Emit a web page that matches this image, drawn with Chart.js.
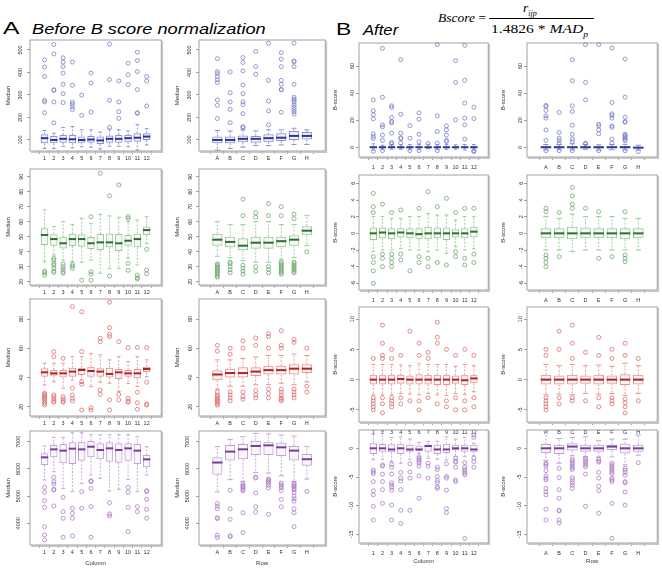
<!DOCTYPE html>
<html><head><meta charset="utf-8">
<script src="https://cdn.jsdelivr.net/npm/chart.js@4"></script>
<style>
body{margin:0;background:#fff;width:662px;height:570px;position:relative;overflow:hidden;font-family:"Liberation Sans",Arial,sans-serif}
.pn{position:absolute}
.t{position:absolute;line-height:1;white-space:nowrap;color:#000;transform-origin:0 0}
.f{position:absolute;line-height:1;white-space:nowrap;font-family:"Liberation Serif","Times New Roman",serif;font-size:13.5px;color:#000;transform-origin:0 0}
</style></head><body>
<div class="t" style="left:3px;top:20px;font-size:17px;transform:scaleX(1.45)">A</div>
<div class="t" style="left:32px;top:22px;font-size:14px;font-style:italic;transform:scaleX(1.30)">Before B score normalization</div>
<div class="t" style="left:336px;top:21px;font-size:17px;transform:scaleX(1.35)">B</div>
<div class="t" style="left:363px;top:23px;font-size:14px;font-style:italic;transform:scaleX(1.19)">After</div>
<div class="f" style="left:438px;top:11px"><i>Bscore</i> =</div>
<div class="f" style="left:523px;top:1px"><i>r</i><sub style="font-size:8px;font-style:italic;color:#000">ijp</sub></div>
<div style="position:absolute;left:489px;top:18px;width:105px;height:1px;background:#000"></div>
<div class="f" style="left:491px;top:22px;font-size:13px;transform:scaleX(1.2)">1.4826 * <i>MAD</i><sub style="font-size:8px;font-style:italic;color:#000">p</sub></div>
<script>
// ---------- category / tick labels ----------
const colLabels = ['1','2','3','4','5','6','7','8','9','10','11','12'];
const rowLabels = ['A','B','C','D','E','F','G','H'];
const ticksR1A = [100,200,300,400,500];
const ticksR1B = [0,20,40,60];
const ticksR2A = [20,30,40,50,60,70,80,90];
const ticksR2B = [-6,-4,-2,0,2,4,6];
const ticksR3A = [20,40,60,80];
const ticksR3B = [-5,0,5,10];
const ticksR4A = [4000,5000,6000,7000];
const ticksR4B = [-15,-10,-5,0];

// ---------- box statistics: [lower whisker, Q1, median, Q3, upper whisker] ----------
// Row 1 (before) by column
const r1c1Box = [[62,85,108,125,142],[62,85,100,118,130],[72,88,105,122,155],[65,85,103,122,160],[70,88,100,115,145],[68,88,102,118,145],[60,82,98,115,135],[72,88,105,120,148],[72,88,105,122,145],[70,90,108,122,140],[55,92,110,130,168],[78,100,115,130,150]];
const r1c1Out = [[456,424,382,276,269,221],[524,482,323,320,269,176],[465,446,426,397,347,306,266],[446,343,268,259,247,235],[299,209],[397,353,224],[],[526,368,276,156],[362,269,226,196],[441,390,346],[490,453,404,324,221,218],[382,362,251]];
// Row 1 (before) by row
const r1c2Box = [[55,85,100,115,142],[62,85,100,115,140],[68,90,105,120,145],[75,88,105,118,140],[75,90,108,125,145],[78,95,110,130,145],[80,100,118,140,152],[80,102,118,135,145]];
const r1c2Out = [[461,404,395,381,367,355,278,254,195],[402,310,269,236,177],[466,444,407,344,306,269,257,217,159,155],[493,426,392],[530,365,273,229,167],[488,459,426,365,347,325,322,223],[530,451,447,426,347,290,282,275,268,255,245,235,225,215],[]];
// Row 1 (after) by column
const r1c3Box = [[-2,-0.6,0,0.6,2.5],[-1.8,-0.5,0,0.5,1.5],[-1.5,-0.5,0,0.6,2],[-1.5,-0.6,0,0.5,2],[-2,-0.5,0,0.5,2],[-1.8,-0.6,0,0.6,2],[-1,-0.4,0,0.6,2.2],[-1.8,-0.6,0,0.6,2],[-1.5,-0.5,0,0.5,2],[-1.5,-0.5,0,0.5,1.8],[-2,-0.6,0,0.6,2],[-2,-0.6,0,0.5,2]];
const r1c3Out = [[35,27,24,21,10,8,6.4,-3],[73,37,16.5,15,9,5,-2.5],[30.6,29.4,22,19,18,10.4,3.5,2.5],[64.7,24.4,10.4,7,6.4,3],[16,6.7,-2.5],[25.4,20.7,9.6,4,-2.5],[2.8],[75.8,23.2,11.6,3,-2.5],[15.8,12.8,9,5,4.2],[64,47.9,20.2],[75.3,49.4,32.6,21.5,16.5,6],[29.6,21.2,-2.5,-3.2]];
// Row 1 (after) by row
const r1c4Box = [[-2,-0.6,0,0.6,2],[-1.8,-0.5,0,0.5,2],[-2,-0.6,0,0.6,2.5],[-1.5,-0.5,0,0.5,2],[-2,-0.6,0,0.5,1.8],[-1.8,-0.6,0,0.6,2],[-2,-0.6,0,0.7,2.2],[-2,-0.6,-0.3,0.2,1.5]];
const r1c4Out = [[30.9,30.1,27.2,23.2,21.5,12.8,5,-2.5],[25.7,10.9,6.7,5,3,-2.5],[64.7,49.1,30.6,26.4,16.3,9.6,6,4.2,-2.5],[75.8,47.9,35,3,2.5],[75.8,17,15.8,12.8,10,-2.5],[73.3,33,24.7,23.5,21.5,15.8,14.8,6,3],[65.2,37,22.2,19,18.5,9.6,8.9,7.9,6.9,5.9,4.9,-2.5],[-3.2]];

// Row 2 (before) by column
const r2c1Box = [[33.3,44.4,51.1,55.6,67.8],[37.8,44,48.4,51.6,56.7],[34.4,42.2,45.6,50,60],[33.3,43.8,48.4,52,58.2],[32.9,43.3,48.4,51.6,62.2],[34.4,41.8,45.6,49.8,58.9],[25.6,41.1,46.2,51.8,64.9],[28.9,42.9,46.2,52.2,63.8],[28.9,40.4,45.6,51.8,62.9],[35.6,44,47.3,51.1,60],[31.1,42.9,48.4,52,61.1],[45.6,51.1,54.4,56.7,63.3]];
const r2c1Out = [[27,26,24.4],[35.6,34.4,32.2,31.1,28.9,27.1,26.2],[31.8,30,28.4,26.7,25.6],[31.6,30.4,28.9],[21],[63.3,26.7,25.1,21],[92.2],[77.3,23.8],[84.4],[63.3,62.2,32.2,27.6],[24.4,22.7,21.8],[41.6,27.8,25.3]];
// Row 2 (before) by row
const r2c2Box = [[37,44,48,52,60],[36,43,46.5,50,58],[34,41,44,49,58],[33,42,46,50,60],[33,42,46,50,60],[35,43,47,50,58],[36,44,48,51,58],[44,51,54,57,64]];
const r2c2Out = [[32,31,30,29,28,27,26,25,24,23],[33,32,30,28,26],[75,64,31,29,27,25],[66,63,30,27],[72,64,30,28,26],[70,64,33,32,31,30,29,28,27,26,25],[65,62,33,32,31,30,29,28,27,26],[40]];
// Row 2 (after) by column
const r2c3Box = [[-2.2,-0.8,0,0.7,2],[-2,-0.6,0.1,0.7,2],[-2,-0.7,0,0.6,1.8],[-1.8,-0.5,0.1,0.6,1.8],[-2,-0.6,0,0.6,2],[-2,-0.7,-0.1,0.6,2],[-2.2,-0.7,0,0.8,2.4],[-2,-0.6,0,0.7,2.2],[-2.4,-0.8,0,0.7,2.2],[-1.6,-0.5,0,0.5,1.6],[-2,-0.6,0,0.6,2],[-1.8,-0.5,0.2,0.8,2]];
const r2c3Out = [[4.8,3.2,2.5,-2.8,-3.5,-4.5,-6],[3.5,-2.5,-3,-4],[2.5,-2.5,-3,-3.5,-4],[2.8,-2.5,-3.2],[-4.5],[3,-2.8,-3.5],[5,-3,-4],[3.2,-3.5],[4.2,-3.8],[2.5,-2.2,-2.8],[3,-3,-3.8],[3,-2.5,-3.5]];
// Row 2 (after) by row
const r2c4Box = [[-2,-0.6,0,0.6,2],[-2,-0.6,0,0.6,1.8],[-2.2,-0.7,0,0.8,2.3],[-2,-0.6,0,0.7,2],[-2,-0.6,0,0.6,2],[-2,-0.6,0,0.6,2],[-2,-0.7,0,0.6,1.8],[-2,-0.6,0,0.6,1.8]];
const r2c4Out = [[3,2.6,-2.6,-3,-3.5,-4],[2.5,-2.8],[5.5,4.5,3.5,3],[3],[2.6,-3],[-2.8],[2.6,-2.6,-3,-3.4],[]];

// Row 3 (before) by column
const r3c1Box = [[34.8,40.5,43.5,46.3,49.7],[37.1,41.2,42.8,45.1,49.7],[32.6,39.9,42.8,45.1,49.7],[38.3,40.5,44,46.7,54.2],[36,41.7,45.1,46.7,54.2],[33.7,40.5,44.4,47.4,56.5],[36.7,40.5,44,46.3,55.4],[36,39.9,42.4,46.7,52],[30.3,38.9,43.5,45.8,54.2],[36,40.5,42.8,45.1,50.8],[33.7,39.4,42.8,45.8,54.2],[40.5,43.5,45.8,47.4,52]];
const r3c1Out = [[29.1,28.4,27.5,26.6,25.7,24.6,23.4,22.3,21.1],[57.7,54.2,28,26.8,25.3,23.9,23],[53.1,26.8,25.3,23.9,23],[88.5,32.6,28,25.7,23.9],[85,57.7,37.1,35.3,17.7],[19.3,17.7],[66.8,64.5,31.4,28.4],[91.5,74.1,69.5,67.9,24.6,17.7],[64.5,28.4,24.6],[60.4,25.7,23.9,23],[60.6,29.8,22.7,18.2],[60.4,36.7,21.8,21.1]];
// Row 3 (before) by row
const r3c2Box = [[32,38,42,45,52],[34,40,43,46,52],[34,40,43,47,53],[35,41,44,47,54],[35,42,45,48,55],[36,42,45,48,55],[35,42,46,49,56],[37,43,46,49,55]];
const r3c2Out = [[30,28,27,26,25,24,23,22,21,58,62],[30,28,26,24,56,60],[30,27,25,60,65],[31,28,26,62,67],[32,29,26,60,68,70],[32,30,28,26,25,24,60,62,72],[32,30,28,26,64,66],[34,30,60]];
// Row 3 (after) by column
const r3c3Box = [[-2.5,-0.8,0,0.8,2.5],[-2.5,-0.8,0,0.8,2.5],[-2.5,-0.8,0,0.8,2.5],[-2.3,-0.7,0.1,0.8,2.4],[-2.4,-0.8,0,0.7,2.3],[-2.5,-0.8,0,0.9,2.6],[-2.3,-0.8,0,0.8,2.5],[-2.5,-0.9,0,0.8,2.5],[-2.6,-0.9,0,0.8,2.5],[-2.3,-0.7,0,0.7,2.2],[-2.5,-0.9,-0.1,0.8,2.5],[-2,-0.6,0.2,0.8,2.3]];
const r3c3Out = [[3.5,-3,-3.5,-4,-4.5,-5],[9,6,4,3.5,-3,-4,-5.5],[5,3.5,-3,-3.5,-4,-4.5],[4,-3,-4],[8,-3.5],[6,4,-3.5,-5],[4.5,3.5,-3],[9.5,7,6,-4],[5,-3.5,-4.5],[4,-3,-5],[5,-3.5,-5],[4,-3,-4.5]];
// Row 3 (after) by row
const r3c4Box = [[-2.5,-0.8,0,0.8,2.5],[-2.4,-0.8,0,0.7,2.3],[-2.5,-0.8,0,0.8,2.5],[-2.3,-0.7,0,0.7,2.3],[-2.4,-0.8,0,0.8,2.4],[-2.3,-0.7,0,0.7,2.2],[-2.6,-0.9,0,0.9,2.7],[-2.3,-0.8,0,0.8,2.3]];
const r3c4Out = [[5,4,-3,-3.5,-4,-4.5,-5],[8,5,-3,-4],[9,6,3.5,-3,-3.5],[4.5,-3.5],[7,4,-3,-4.5],[5,3.5,-3,-3.5,-4],[6,4,-3.2,-3.8,-4.5,-5.5],[3.5,-3.5]];

// Row 4 (before) by column
const r4c1Box = [[5592,6143,6425,6572,6841],[5898,6425,6718,6878,7159],[5286,6204,6670,6914,7159],[5164,6180,6743,6976,7330],[5470,6302,6718,7000,7330],[5776,6425,6816,7024,7257],[5654,6351,6694,6939,7257],[5189,6266,6755,6976,7257],[5250,6229,6694,6939,7257],[5617,6302,6755,6939,7257],[5164,6180,6670,6914,7184],[5776,6057,6351,6510,6816]];
const r4c1Out = [[5323,5140,4833,4589,3879,3573,3389],[5690,5531,5446,5250,5225,4638],[4956,4430,4185,3487],[4552,4368,4185,3536],[5164,4552],[5568,5531,5286,4613,3487],[],[4760,4344,4270],[],[5323,5140,4589,3695],[4613,4430],[5200,5164,4883,4515,4185]];
// Row 4 (before) by row
const r4c2Box = [[5153,5785,6234,6429,6818],[5603,6307,6635,6878,7085],[5542,6356,6720,6915,7182],[5870,6514,6842,7036,7304],[5846,6514,6866,7000,7280],[5749,6477,6793,6964,7243],[5542,6307,6672,6842,7207],[5627,6113,6356,6550,6818]];
const r4c2Out = [[4728,4631,4533,4205,4169,3561,3476],[5214,4533,4145,3537,3513],[5457,5400,5350,5300,5240,5190,4388,3659],[5700,5663,5117,4606,4412],[5627,5590,5540,5480,5400,5300,4327],[5480,5420,5360,5300,5200,4874,4607],[5480,5430,5380,5330,5280,5230,5130,5000,4900,4810,4533,4388,3877],[5177]];
// Row 4 (after) by column
const r4c3Box = [[-2,-1,0,0.9,2.5],[-1.9,-0.6,0,0.75,2.9],[-2.3,-0.7,-0.2,0.7,1.9],[-2.6,-1,0,0.8,2],[-1.9,-0.6,-0.2,0.6,1.6],[-0.9,-0.5,-0.2,0.5,1],[-1.7,-0.6,0.4,0.6,1.2],[-1.9,-1,-0.2,0.6,1.2],[-2,-0.8,-0.2,0.8,2],[-1.4,-0.3,0,0.6,1.6],[-1.4,-0.6,0,0.6,1.9],[-1.3,-0.6,-0.2,0.6,0.9]];
const r4c3Out = [[-3.8,-4.1,-4.4,-5.8,-7.4,-8.1,-10.1,-12.5],[-2.9,-3.1,-4.5,-5.8,-7.2,-9.6],[-2.8,-3.3,-4.5,-6,-6.4,-6.8,-7.3,-9.9,-12.5],[-4.2,-5.2,-5.7,-7.2,-10.8,-13.1],[-2.7,-4.1,-5.2,-10.8],[-1.5,-1.7,-2,-2.3,-2.6,-3.1,-4.8,-8.7],[-2.6,-3.1,-5.2],[-3.3,-3.7,-4.9,-5.6,-6,-6.7,-7],[-2.7,-4.9,-5.2,-7.3,-10.5,-11.2],[-1.7,-2.2,-2.4,-3.3,-5.5,-5.8],[-2.5,-3.3,-3.7,-4,-4.3,-4.6,-15.7],[2.3,1.9,-1.7,-2.3,-3.3]];
// Row 4 (after) by row
const r4c4Box = [[-2.1,-0.8,0,0.75,2.9],[-2.6,-1,0,0.6,1.7],[-1.3,-0.4,0.3,0.9,1.9],[-1.5,-0.6,0,0.6,2],[-1.5,-0.6,0,0.6,1.3],[-1.5,-0.3,0.3,0.6,1.6],[-2.9,-0.9,0,0.8,1.6],[-1.2,-0.6,0,0.6,2.3]];
const r4c4Out = [[-2.6,-2.8,-3.1,-3.9,-4.8,-5.2,-5.5,-7,-7.6,-8.1,-10.6,-12.5],[-3.5,-5.1,-7.2,-8.7,-10.8,-10.9,-12.5,-13],[-1.9,-2.2,-2.5,-2.8,-3.1,-3.4,-3.7,-5.1,-5.5,-6,-6.4,-7],[-1.7,-2,-2.3,-2.6,-2.9,-3.2,-4.5,-10.1],[-1.9,-2.2,-2.4,-4.2,-5.2,-6.6,-7.4,-11.3],[-2.6,-2.9,-3.2,-3.5,-3.8,-4.1,-4.4,-5.2,-5.5,-5.8,-9.6,-15.7],[-3.5,-3.8,-4.2,-4.7,-5.8,-6,-7.6,-9.9],[-2.5]];

// ---------- styling (not data) ----------
const themes = [
  {line:'#8b91d2', fill:'rgba(139,145,210,0.10)', med:'#2e3592', pt:'#7a80c6'},
  {line:'#98c898', fill:'rgba(152,200,152,0.10)', med:'#2f6e2f', pt:'#6fa86f'},
  {line:'#e69393', fill:'rgba(230,147,147,0.10)', med:'#b22222', pt:'#dd6e6e'},
  {line:'#c2a2d6', fill:'rgba(194,162,214,0.10)', med:'#7a3d96', pt:'#ac7cc6'}
];
const FONT = '"Liberation Sans", Arial, sans-serif';

const panels = [
  {box:r1c1Box,out:r1c1Out,labels:colLabels,yt:ticksR1A,frame:[30,40,162,151],y:[51,544],th:0,ytitle:'Median',xtitle:'',b:false},
  {box:r1c2Box,out:r1c2Out,labels:rowLabels,yt:ticksR1A,frame:[199,40,326,151],y:[51,544],th:0,ytitle:'Median',xtitle:'',b:false},
  {box:r1c3Box,out:r1c3Out,labels:colLabels,yt:ticksR1B,frame:[359,43,489,157],y:[-7.2,77],th:0,ytitle:'B-score',xtitle:'',b:true},
  {box:r1c4Box,out:r1c4Out,labels:rowLabels,yt:ticksR1B,frame:[527,43,658,157],y:[-7.2,77],th:0,ytitle:'B-score',xtitle:'',b:true},
  {box:r2c1Box,out:r2c1Out,labels:colLabels,yt:ticksR2A,frame:[30,169,162,285],y:[17.8,95.1],th:1,ytitle:'Median',xtitle:'',b:false},
  {box:r2c2Box,out:r2c2Out,labels:rowLabels,yt:ticksR2A,frame:[199,169,326,285],y:[17.8,95.1],th:1,ytitle:'Median',xtitle:'',b:false},
  {box:r2c3Box,out:r2c3Out,labels:colLabels,yt:ticksR2B,frame:[359,175,489,290],y:[-6.8,7],th:1,ytitle:'B-score',xtitle:'',b:true},
  {box:r2c4Box,out:r2c4Out,labels:rowLabels,yt:ticksR2B,frame:[527,175,658,290],y:[-6.8,7],th:1,ytitle:'B-score',xtitle:'',b:true},
  {box:r3c1Box,out:r3c1Out,labels:colLabels,yt:ticksR3A,frame:[30,299,162,416],y:[13.6,93.7],th:2,ytitle:'Median',xtitle:'',b:false},
  {box:r3c2Box,out:r3c2Out,labels:rowLabels,yt:ticksR3A,frame:[199,299,326,416],y:[13.6,93.7],th:2,ytitle:'Median',xtitle:'',b:false},
  {box:r3c3Box,out:r3c3Out,labels:colLabels,yt:ticksR3B,frame:[359,307,489,422],y:[-7,12],th:2,ytitle:'B-score',xtitle:'',b:true},
  {box:r3c4Box,out:r3c4Out,labels:rowLabels,yt:ticksR3B,frame:[527,307,658,422],y:[-7,12],th:2,ytitle:'B-score',xtitle:'',b:true},
  {box:r4c1Box,out:r4c1Out,labels:colLabels,yt:ticksR4A,frame:[30,431,162,545],y:[3202,7393],th:3,ytitle:'Median',xtitle:'Column',b:false},
  {box:r4c2Box,out:r4c2Out,labels:rowLabels,yt:ticksR4A,frame:[199,431,326,545],y:[3202,7393],th:3,ytitle:'Median',xtitle:'Row',b:false},
  {box:r4c3Box,out:r4c3Out,labels:colLabels,yt:ticksR4B,frame:[359,430,489,543],y:[-16.5,3.19],th:3,ytitle:'B-score',xtitle:'Column',b:true},
  {box:r4c4Box,out:r4c4Out,labels:rowLabels,yt:ticksR4B,frame:[527,430,658,543],y:[-16.5,3.19],th:3,ytitle:'B-score',xtitle:'Row',b:true}
];

const framePlugin = {
  id:'frame',
  afterDraw(chart){
    const a = chart.chartArea, c = chart.ctx;
    c.save();
    c.strokeStyle = '#c8c8c8'; c.lineWidth = 1.5;
    c.beginPath(); c.moveTo(a.right+1.2,a.top+1); c.lineTo(a.right+1.2,a.bottom+1.2); c.lineTo(a.left+1,a.bottom+1.2); c.stroke();
    c.strokeStyle = '#8a8a8a'; c.lineWidth = 0.8;
    c.strokeRect(a.left, a.top, a.right-a.left, a.bottom-a.top);
    c.restore();
  }
};

function spacingPx(ctx){ const s = ctx.chart.scales.x; return Math.abs(s.getPixelForValue(2)-s.getPixelForValue(1)); }

function makePanel(p){
  const [fl,ft,fr,fb] = p.frame;
  const Lw = 30, Tp = 8, Rp = 4, Bh = 22;
  const w = fr-fl+Lw+Rp, h = fb-ft+Tp+Bh;
  const div = document.createElement('div'); div.className='pn';
  div.style.left=(fl-Lw)+'px'; div.style.top=(ft-Tp)+'px'; div.style.width=w+'px'; div.style.height=h+'px';
  const cv = document.createElement('canvas'); cv.width=w; cv.height=h; cv.style.width=w+'px'; cv.style.height=h+'px';
  div.appendChild(cv); document.body.appendChild(div);
  const th = themes[p.th];
  const n = p.labels.length, pad = 0.04*n;
  const boxData = [], whisk = [], caps = [], meds = [], outs = [];
  p.box.forEach((b,i)=>{
    const x = i+1;
    boxData.push({x, y:[b[1], b[3]]});
    whisk.push({x,y:b[3]},{x,y:b[4]},{x,y:null},{x,y:b[1]},{x,y:b[0]},{x,y:null});
    caps.push({x,y:b[0]},{x,y:b[4]});
    meds.push({x,y:b[2]});
    p.out[i].forEach(v=>outs.push({x,y:v}));
  });
  new Chart(cv, {
    type:'bar',
    data:{datasets:[
      {type:'bar', data:boxData, backgroundColor:th.fill, borderColor:th.line, borderWidth:1, borderSkipped:false, barPercentage:0.8, categoryPercentage:1, grouped:false, clip:false, order:5},
      {type:'line', data:whisk, borderColor:th.line, borderWidth:0.9, borderDash:[2,1.5], pointRadius:0, spanGaps:false, clip:false, order:4},
      {type:'line', data:caps, showLine:false, pointStyle:'line', pointRadius:c=>spacingPx(c)*0.2, pointBorderColor:th.line, pointBorderWidth:1, clip:false, order:3},
      {type:'line', data:meds, showLine:false, pointStyle:'line', pointRadius:c=>spacingPx(c)*0.4, pointBorderColor:th.med, pointBorderWidth:2, clip:false, order:1},
      {type:'line', data:outs, showLine:false, pointStyle:'circle', pointRadius:2, pointBackgroundColor:'rgba(0,0,0,0)', pointBorderColor:th.pt, pointBorderWidth:0.8, clip:false, order:2}
    ]},
    options:{
      responsive:false, animation:false, devicePixelRatio:1,
      layout:{padding:{left:0,top:Tp,right:Rp,bottom:0}},
      plugins:{legend:{display:false}, tooltip:{enabled:false}},
      scales:{
        x:{type:'linear', min:0.5-pad, max:n+0.5+pad,
           afterBuildTicks:s=>{ s.ticks = p.labels.map((_,i)=>({value:i+1})); },
           afterFit:s=>{ s.height = Bh; },
           grid:{display:true, drawOnChartArea:false, drawTicks:true, tickLength:3, color:'#777', lineWidth:0.7},
           border:{display:false},
           ticks:{font:{size:5.5,family:FONT}, color:'#333', padding:p.b?4:1, maxRotation:0, autoSkip:false, callback:v=>p.labels[Math.round(v)-1]},
           title:{display:!!p.xtitle, text:p.xtitle, color:'#333', font:{size:6,family:FONT}, padding:{top:0,bottom:0}}},
        y:{type:'linear', min:p.y[0], max:p.y[1],
           afterBuildTicks:s=>{ s.ticks = p.yt.map(v=>({value:v})); },
           afterFit:s=>{ s.width = Lw; },
           grid:{display:true, drawOnChartArea:false, drawTicks:true, tickLength:3, color:'#777', lineWidth:0.7},
           border:{display:false},
           ticks:{font:{size:5.5,family:FONT}, color:'#333', padding:p.b?0.5:2, minRotation:90, maxRotation:90, crossAlign:'center', autoSkip:false, callback:v=>String(v)},
           title:{display:true, text:p.ytitle, color:'#333', font:{size:6,family:FONT}, padding:{top:p.b?3:5,bottom:0}}}
      }
    },
    plugins:[framePlugin]
  });
}
panels.forEach(makePanel);
</script>
</body></html>
